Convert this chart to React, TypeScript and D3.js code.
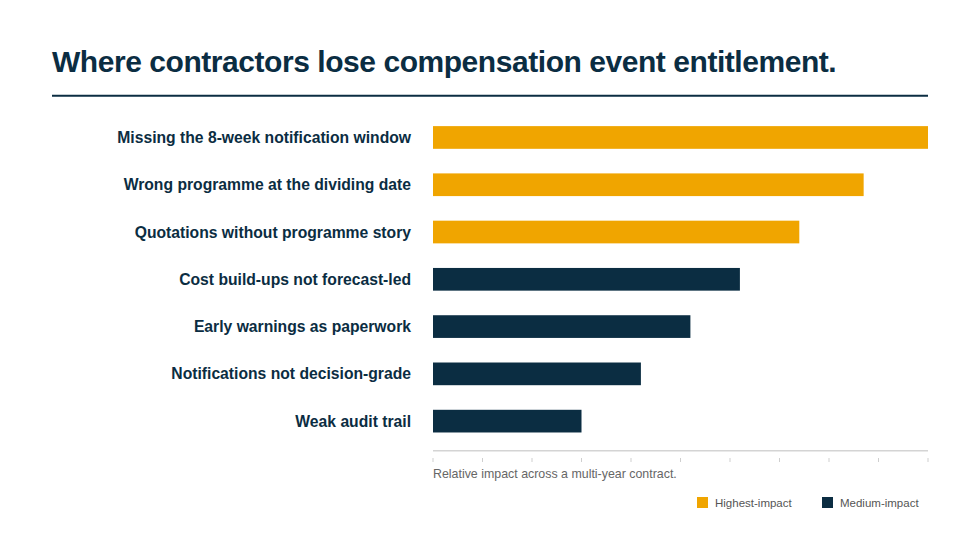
import React from "react";
import * as d3 from "d3";

const categories = [
  "Missing the 8-week notification window",
  "Wrong programme at the dividing date",
  "Quotations without programme story",
  "Cost build-ups not forecast-led",
  "Early warnings as paperwork",
  "Notifications not decision-grade",
  "Weak audit trail",
];
const impact = [100, 87, 74, 62, 52, 42, 30];
const tier = ["high", "high", "high", "medium", "medium", "medium", "medium"];
const ticks = [0, 10, 20, 30, 40, 50, 60, 70, 80, 90, 100];
const legendItems = [
  { key: "high", label: "Highest-impact" },
  { key: "medium", label: "Medium-impact" },
];

const NAVY = "#0b2d42";
const ORANGE = "#f0a500";
const FONT = "'Liberation Sans', Arial, Helvetica, sans-serif";

const W = 980;
const H = 551;

const App: React.FC = () => {
  const x = d3.scaleLinear().domain([0, 100]).range([433, 928]);
  const y = d3
    .scaleBand<string>()
    .domain(categories)
    .range([114.3, 444.3])
    .paddingInner(0.52)
    .paddingOuter(0.25);
  const color = d3
    .scaleOrdinal<string, string>()
    .domain(["high", "medium"])
    .range([ORANGE, NAVY]);

  const legendX = [697, 822];

  return (
    <svg
      width={W}
      height={H}
      style={{ position: "absolute", left: 0, top: 0, background: "#fff" }}
      fontFamily={FONT}
    >
      <rect width={W} height={H} fill="#fff" />
      {/* title */}
      <text
        x={52}
        y={72}
        fill={NAVY}
        fontSize={30}
        fontWeight="bold"
        letterSpacing={-0.45}
      >
        Where contractors lose compensation event entitlement.
      </text>
      <line x1={52} x2={928} y1={95.7} y2={95.7} stroke={NAVY} strokeWidth={2} />

      {/* bars */}
      {categories.map((c, i) => (
        <g key={c}>
          <rect
            x={x(0)}
            y={y(c)}
            width={x(impact[i]) - x(0)}
            height={y.bandwidth()}
            fill={color(tier[i])}
          />
          <text
            x={411}
            y={(y(c) ?? 0) + y.bandwidth() / 2}
            dy="0.35em"
            textAnchor="end"
            fill={NAVY}
            fontSize={15.7}
            fontWeight="bold"
          >
            {c}
          </text>
        </g>
      ))}

      {/* axis */}
      <line x1={x(0)} x2={x(100)} y1={450.7} y2={450.7} stroke="#d4d4d4" strokeWidth={1.5} />
      {ticks.map((t) => (
        <line key={t} x1={x(t)} x2={x(t)} y1={458} y2={462} stroke="#cfcfcf" strokeWidth={1} />
      ))}
      <text x={433} y={478} fill="#666" fontSize={12.4}>
        Relative impact across a multi-year contract.
      </text>

      {/* legend */}
      {legendItems.map((d, i) => (
        <g key={d.key} transform={`translate(${legendX[i]},497)`}>
          <rect width={11} height={11} fill={color(d.key)} />
          <text x={18} y={9.6} fill="#555" fontSize={11.5}>
            {d.label}
          </text>
        </g>
      ))}
    </svg>
  );
};

export default App;
